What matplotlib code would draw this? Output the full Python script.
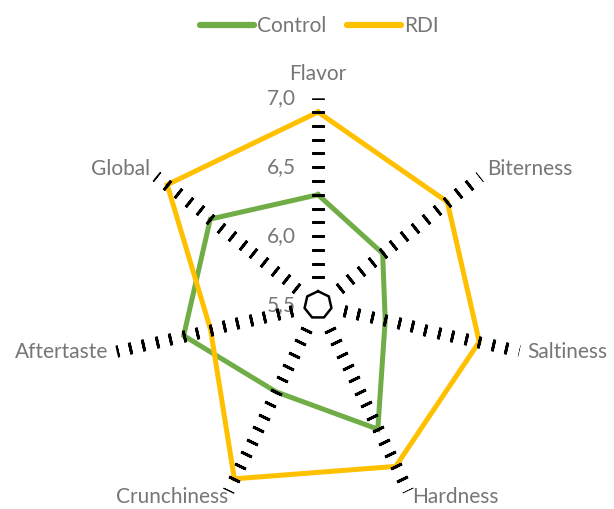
import numpy as np
import matplotlib
matplotlib.use("Agg")
import matplotlib.pyplot as plt

# Data
categories = ["Flavor", "Biterness", "Saltiness", "Hardness", "Crunchiness", "Aftertaste", "Global"]
control = [6.3, 6.1, 6.0, 6.5, 6.2, 6.5, 6.5]
rdi = [6.9, 6.7, 6.7, 6.8, 6.9, 6.3, 6.9]
r_ticks = [5.5, 6.0, 6.5, 7.0]
r_tick_labels = ["5,5", "6,0", "6,5", "7,0"]
r_min, r_max = 5.5, 7.0

plt.rcParams['font.family'] = ['Lato', 'DejaVu Sans']
text_color = "#767676"
fs = 15

fig = plt.figure(figsize=(6.14, 5.09), dpi=100)
ax = fig.add_axes([0.1813, -0.0053, 0.6733, 0.8122], projection="polar")
ax.set_theta_offset(np.pi / 2)
ax.set_theta_direction(-1)
ax.set_ylim(r_min, r_max)
ax.grid(False)
ax.spines["polar"].set_visible(False)
ax.set_xticks([])
ax.set_yticks([])
ax.patch.set_alpha(0)

n = len(categories)
angles = np.arange(n) * 2 * np.pi / n
closed = np.append(angles, angles[0])

# series
ax.plot(closed, control + control[:1], color="#70AD47", lw=3.6, zorder=3,
        solid_joinstyle="miter", label="Control")
ax.plot(closed, rdi + rdi[:1], color="#FFC000", lw=3.6, zorder=3,
        solid_joinstyle="miter", label="RDI")

# inner gridline (solid heptagon)
inner = 5.6
ax.plot(closed, [inner] * (n + 1), color="black", lw=1.8, zorder=4)

# dashed spokes: short ticks perpendicular to each spoke
tick_r = np.round(np.arange(5.7, 7.001, 0.1), 2)
for a in angles:
    bearing = np.degrees(a)
    ax.plot([a] * len(tick_r), tick_r, linestyle="none",
            marker=(2, 2, 90 - bearing), markersize=8.5,
            markeredgewidth=2.0, color="black", zorder=5)

# radial value labels
for v, lab in zip(r_ticks, r_tick_labels):
    ax.annotate(lab, (0, v), xytext=(-22, 0), textcoords="offset pixels",
                ha="right", va="center", fontsize=fs, color=text_color,
                annotation_clip=False)

# category labels
offsets = [((0, 24), "center"), ((7, 7), "left"), ((8, -1), "left"),
           ((4, -6), "left"), ((0, -6), "right"), ((-8, -1), "right"),
           ((-6, 7), "right")]
for a, lab, (off, ha) in zip(angles, categories, offsets):
    ax.annotate(lab, (a, r_max), xytext=off, textcoords="offset pixels",
                ha=ha, va="center", fontsize=fs, color=text_color,
                annotation_clip=False)

leg = fig.legend(loc="upper center", bbox_to_anchor=(0.52, 1.005), ncol=2,
                 frameon=False, fontsize=fs, handlelength=2.6,
                 handletextpad=0.15, columnspacing=1.0)
for t in leg.get_texts():
    t.set_color(text_color)
for h in leg.legend_handles:
    h.set_linewidth(4.5)
    h.set_solid_capstyle("round")

fig.savefig("out.png", dpi=100)
